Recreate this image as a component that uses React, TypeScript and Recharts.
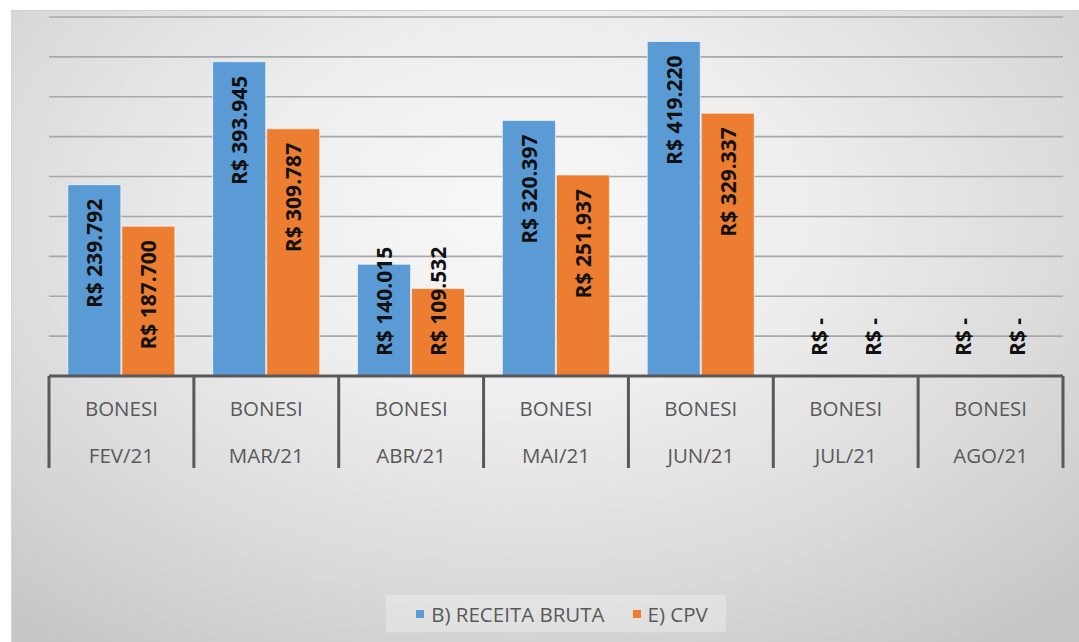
import { BarChart, Bar, XAxis, YAxis, CartesianGrid, Legend, LabelList } from 'recharts';

const produto = 'BONESI';
const meses = ['FEV/21', 'MAR/21', 'ABR/21', 'MAI/21', 'JUN/21', 'JUL/21', 'AGO/21'];
const receitaBruta = [239792, 393945, 140015, 320397, 419220, 0, 0];
const cpv = [187700, 309787, 109532, 251937, 329337, 0, 0];
const yTicks = [0, 50000, 100000, 150000, 200000, 250000, 300000, 350000, 400000, 450000];

const data = meses.map((mes, i) => ({
  mes,
  produto,
  receita: receitaBruta[i],
  cpv: cpv[i],
}));

const BLUE = '#5B9BD5';
const ORANGE = '#ED7D31';
const AXIS = '#595959';
const FONT = '"Open Sans", "DejaVu Sans", sans-serif';

const LABEL_SIZE = 21;

const fmt = (v: number) => String(Math.round(v)).replace(/\B(?=(\d{3})+(?!\d))/g, '.');

// rough width of bold Open Sans glyphs, in em
const textLen = (s: string) => {
  let em = 0;
  for (const c of s) {
    if (c === ' ') em += 0.26;
    else if (c === '.') em += 0.29;
    else if (c === '-') em += 0.32;
    else if (c === 'R') em += 0.66;
    else em += 0.572;
  }
  return em * LABEL_SIZE;
};

const renderValueLabel = (props: any) => {
  const { x, y, width, height, value } = props;
  const text = value ? `R$ ${fmt(value)}` : 'R$ -';
  const cx = x + width / 2;
  const base = y + height;
  const len = textLen(text);
  const top = y + 14;
  const fitsTop = top + len <= base - 20;
  const ty = fitsTop ? top : base - 20;
  return (
    <text
      x={cx}
      y={ty}
      transform={`rotate(-90, ${cx}, ${ty})`}
      textAnchor={fitsTop ? 'end' : 'start'}
      dominantBaseline="central"
      fontFamily={FONT}
      fontWeight={700}
      fontSize={LABEL_SIZE}
      fill="#111"
    >
      {text}
    </text>
  );
};

const CategoryTick = (props: any) => {
  const { x, y, payload, index } = props;
  const half = payload.offset || 72.4;
  const d = data[index] || { produto, mes: payload.value };
  return (
    <g>
      <line x1={x - half} x2={x - half} y1={y} y2={y + 92} stroke={AXIS} strokeWidth={3} />
      {index === meses.length - 1 && (
        <line x1={x + half} x2={x + half} y1={y} y2={y + 92} stroke={AXIS} strokeWidth={3} />
      )}
      <text x={x} y={y + 32} textAnchor="middle" dominantBaseline="central" fontFamily={FONT} fontSize={20.5} fill={AXIS}>
        {d.produto}
      </text>
      <text x={x} y={y + 79} textAnchor="middle" dominantBaseline="central" fontFamily={FONT} fontSize={20.5} fill={AXIS}>
        {d.mes}
      </text>
    </g>
  );
};

const LegendBox = () => (
  <div style={{ display: 'flex', justifyContent: 'center' }}>
    <div
      style={{
        display: 'flex',
        alignItems: 'center',
        gap: 28,
        height: 37,
        padding: '0 18px 0 30px',
        background: 'rgba(255,255,255,0.28)',
        fontFamily: FONT,
        fontSize: 20.5,
        color: AXIS,
      }}
    >
      {[
        { name: 'B) RECEITA BRUTA', color: BLUE },
        { name: 'E) CPV', color: ORANGE },
      ].map((it) => (
        <span key={it.name} style={{ display: 'flex', alignItems: 'center' }}>
          <span style={{ width: 8, height: 8, background: it.color, marginRight: 7, display: 'inline-block' }} />
          {it.name}
        </span>
      ))}
    </div>
  </div>
);

// zero values still need a (practically invisible) bar so the "R$ -" label is drawn
const zeroSize = (v: number) => (v === 0 ? 0.01 : 0);

export default function App() {
  return (
    <div style={{ position: 'absolute', left: 0, top: 0, width: 1079, height: 642, background: '#fff' }}>
      <div
        style={{
          position: 'absolute',
          left: 11,
          top: 10,
          width: 1068,
          height: 632,
          borderTop: '1px solid #cfcfcf',
          borderLeft: '1px solid #d4d4d4',
          boxSizing: 'border-box',
          background: 'radial-gradient(ellipse 75% 85% at 48% 32%, #f8f8f8 0%, #eeeeee 35%, #dadada 70%, #c6c6c6 100%)',
        }}
      >
        <BarChart
          width={1067}
          height={631}
          data={data}
          margin={{ top: 6, right: 16, left: 37, bottom: 10 }}
          barCategoryGap="13%"
          barGap={1}
        >
          <CartesianGrid horizontal vertical={false} stroke="#a8a8a8" strokeWidth={1.6} />
          <YAxis hide domain={[0, 450000]} ticks={yTicks} />
          <XAxis
            dataKey="mes"
            interval={0}
            height={219}
            tickLine={false}
            tickSize={0}
            tickMargin={0}
            axisLine={{ stroke: AXIS, strokeWidth: 3 }}
            tick={<CategoryTick />}
          />
          <Legend verticalAlign="bottom" height={37} content={<LegendBox />} />
          <Bar dataKey="receita" name="B) RECEITA BRUTA" fill={BLUE} stroke="#ffffff" strokeOpacity={0.6} strokeWidth={1} minPointSize={zeroSize} isAnimationActive={false}>
            <LabelList dataKey="receita" content={renderValueLabel} />
          </Bar>
          <Bar dataKey="cpv" name="E) CPV" fill={ORANGE} stroke="#ffffff" strokeOpacity={0.6} strokeWidth={1} minPointSize={zeroSize} isAnimationActive={false}>
            <LabelList dataKey="cpv" content={renderValueLabel} />
          </Bar>
        </BarChart>
      </div>
    </div>
  );
}
